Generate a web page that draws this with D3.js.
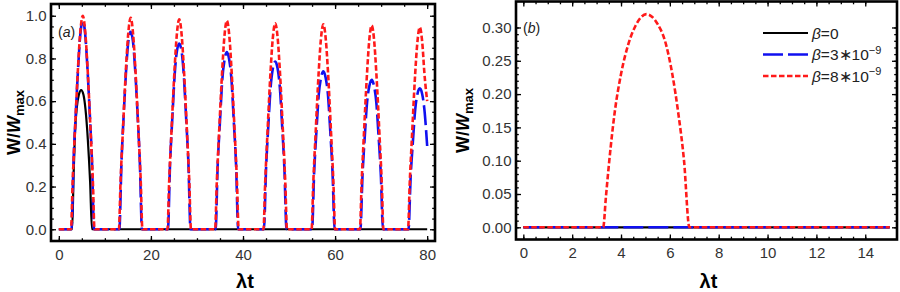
<!DOCTYPE html>
<html>
<head>
<meta charset="utf-8">
<script src="https://cdn.jsdelivr.net/npm/d3@7/dist/d3.min.js"></script>
<style>
  body { margin: 0; background: #fff; }
  svg text { font-family: 'Liberation Sans', Arial, sans-serif; }
</style>
</head>
<body>
<svg id="chart" width="900" height="292"></svg>
<script>
// panel (a): W/Wmax vs lambda*t
const blackA = [[0,0],[2.9,0],[3.2,0.25],[3.5,0.45],[3.9,0.57],[4.35,0.63],[4.85,0.652],[5.35,0.63],[5.8,0.56],[6.3,0.42],[6.8,0.22],[7.2,0],[80,0]];

const blueA = [[0,0],
  [2.75,0],[3.2,0.32],[3.7,0.55],[4.2,0.76],[4.7,0.92],[5.2,0.975],[5.7,0.92],[6.2,0.76],[6.7,0.55],[7.2,0.32],[7.65,0],
  [13.15,0],[13.6,0.31],[14.1,0.54],[14.6,0.74],[15.1,0.88],[15.6,0.925],[16.1,0.88],[16.6,0.74],[17.1,0.54],[17.6,0.31],[18.05,0],
  [23.7,0],[24.15,0.305],[24.65,0.52],[25.15,0.72],[25.65,0.835],[26.15,0.87],[26.65,0.835],[27.15,0.72],[27.65,0.52],[28.15,0.305],[28.6,0],
  [34.05,0],[34.5,0.3],[35.0,0.505],[35.5,0.70],[36.0,0.795],[36.5,0.83],[37.0,0.795],[37.5,0.70],[38.0,0.505],[38.5,0.3],[38.95,0],
  [44.55,0],[45.0,0.28],[45.5,0.485],[46.0,0.665],[46.5,0.755],[47.0,0.785],[47.5,0.755],[48.0,0.665],[48.5,0.485],[49.0,0.28],[49.45,0],
  [55.0,0],[55.45,0.265],[55.95,0.46],[56.45,0.63],[56.95,0.71],[57.45,0.74],[57.95,0.71],[58.45,0.63],[58.95,0.46],[59.45,0.265],[59.9,0],
  [65.5,0],[65.95,0.25],[66.45,0.435],[66.95,0.595],[67.45,0.672],[67.95,0.70],[68.45,0.672],[68.95,0.595],[69.45,0.435],[69.95,0.25],[70.4,0],
  [75.95,0],[76.4,0.24],[76.9,0.41],[77.4,0.56],[77.9,0.635],[78.4,0.66],[78.9,0.635],[79.4,0.56],[80,0.39]];

const redA = [[0,0],
  [2.65,0],[3.0,0.22],[3.5,0.46],[4.2,0.77],[4.65,0.92],[5.2,1.0],[5.75,0.92],[6.2,0.77],[6.9,0.46],[7.4,0.22],[7.75,0],
  [13.05,0],[13.4,0.22],[13.9,0.455],[14.6,0.76],[15.05,0.91],[15.6,0.99],[16.15,0.91],[16.6,0.76],[17.3,0.455],[17.8,0.22],[18.15,0],
  [23.6,0],[23.95,0.215],[24.45,0.45],[25.15,0.755],[25.6,0.905],[26.15,0.983],[26.7,0.905],[27.15,0.755],[27.85,0.45],[28.35,0.215],[28.7,0],
  [33.95,0],[34.3,0.215],[34.8,0.45],[35.5,0.75],[35.95,0.9],[36.5,0.977],[37.05,0.9],[37.5,0.75],[38.2,0.45],[38.7,0.215],[39.05,0],
  [44.45,0],[44.8,0.21],[45.3,0.445],[46.0,0.745],[46.45,0.89],[47.0,0.965],[47.55,0.89],[48.0,0.745],[48.7,0.445],[49.2,0.21],[49.55,0],
  [54.9,0],[55.25,0.21],[55.75,0.44],[56.45,0.74],[56.9,0.885],[57.45,0.96],[58.0,0.885],[58.45,0.74],[59.15,0.44],[59.65,0.21],[60.0,0],
  [65.4,0],[65.75,0.21],[66.25,0.44],[66.95,0.735],[67.4,0.88],[67.95,0.955],[68.5,0.88],[68.95,0.735],[69.65,0.44],[70.15,0.21],[70.5,0],
  [75.85,0],[76.2,0.21],[76.7,0.435],[77.4,0.73],[77.85,0.87],[78.4,0.946],[78.95,0.87],[79.4,0.73],[80,0.6]];

// panel (b)
const blackB = [[0,0],[15,0]];
const blueB = [[0,0],[15,0]];
const redB = [[0,0],[3.27,0],[3.38,0.045],[3.52,0.1],[3.75,0.175],[4.0,0.23],[4.3,0.275],[4.6,0.303],[5.04,0.32],[5.5,0.305],[5.8,0.28],[6.1,0.23],[6.35,0.17],[6.58,0.1],[6.8,0],[15,0]];

const ticksAx = [0, 20, 40, 60, 80];
const ticksAy = [0, 0.2, 0.4, 0.6, 0.8, 1.0];
const ticksBx = [0, 2, 4, 6, 8, 10, 12, 14];
const ticksBy = [0, 0.05, 0.10, 0.15, 0.20, 0.25, 0.30];
const legendLabels = [['0', null], ['3\u221710', '\u22129'], ['8\u221710', '\u22129']];

const styles = [
  { color: '#000', width: 2.2, dash: null },
  { color: '#1010f0', width: 2.6, dash: '20,5' },
  { color: '#ff1a1a', width: 2.6, dash: '5.5,2.5' }
];

const svg = d3.select('#chart');

function drawPanel(p) {
  const x = d3.scaleLinear().domain(p.xDomain).range([p.left, p.right]);
  const y = d3.scaleLinear().domain(p.yDomain).range([p.bottom, p.top]);
  const g = svg.append('g');

  g.append('clipPath').attr('id', 'clip-' + p.id)
    .append('rect')
    .attr('x', p.left).attr('y', p.top)
    .attr('width', p.right - p.left).attr('height', p.bottom - p.top);

  const line = d3.line()
    .x(d => x(d[0]))
    .y(d => y(d[1]))
    .curve(d3.curveMonotoneX);

  const curves = g.append('g').attr('clip-path', `url(#clip-${p.id})`);
  p.series.forEach((s, i) => {
    curves.append('path')
      .attr('d', line(s))
      .attr('fill', 'none')
      .attr('stroke', styles[i].color)
      .attr('stroke-width', styles[i].width)
      .attr('stroke-dasharray', styles[i].dash)
      .attr('stroke-linejoin', 'round');
  });

  // major + minor ticks on all four sides, pointing inward
  const minorX = d3.range(p.xTicks[0], p.xTicks[p.xTicks.length - 1] + 1e-9, p.xMinor);
  const minorY = d3.range(p.yTicks[0], p.yTicks[p.yTicks.length - 1] + 1e-9, p.yMinor);

  const sides = [
    { make: d3.axisBottom, scale: x, pos: p.bottom, dir: 'x', labelled: true },
    { make: d3.axisTop, scale: x, pos: p.top, dir: 'x', labelled: false },
    { make: d3.axisLeft, scale: y, pos: p.left, dir: 'y', labelled: true },
    { make: d3.axisRight, scale: y, pos: p.right, dir: 'y', labelled: false }
  ];
  sides.forEach(s => {
    const shift = s.dir === 'x' ? `translate(0,${s.pos})` : `translate(${s.pos},0)`;
    const fmt = s.labelled ? (s.dir === 'x' ? p.xFormat : p.yFormat) : () => '';

    const ga = g.append('g')
      .attr('transform', shift)
      .call(s.make(s.scale)
        .tickValues(s.dir === 'x' ? p.xTicks : p.yTicks)
        .tickSizeInner(-5).tickSizeOuter(0)
        .tickPadding(s.dir === 'x' ? 8 : 4.5)
        .tickFormat(fmt));
    ga.select('.domain').remove();
    ga.selectAll('line').attr('stroke', '#000').attr('stroke-width', 1.3);
    ga.selectAll('text').attr('font-size', 15).attr('fill', '#333');

    const gm = g.append('g')
      .attr('transform', shift)
      .call(s.make(s.scale)
        .tickValues(s.dir === 'x' ? minorX : minorY)
        .tickSizeInner(-2.8).tickSizeOuter(0)
        .tickFormat(() => ''));
    gm.select('.domain').remove();
    gm.selectAll('line').attr('stroke', '#000').attr('stroke-width', 1.3);
  });

  g.append('rect')
    .attr('x', p.left).attr('y', p.top)
    .attr('width', p.right - p.left).attr('height', p.bottom - p.top)
    .attr('fill', 'none').attr('stroke', '#000').attr('stroke-width', 2.6);

  // axis titles
  const yt = g.append('text')
    .attr('transform', `translate(${p.yTitleX},${(p.top + p.bottom) / 2}) rotate(-90)`)
    .attr('text-anchor', 'middle')
    .attr('font-size', 18).attr('font-weight', 'bold');
  yt.append('tspan').text('W/');
  yt.append('tspan').attr('font-style', 'italic').text('W');
  yt.append('tspan').attr('font-size', 13).attr('dy', 4).text('max');

  g.append('text')
    .attr('x', (p.left + p.right) / 2 + 2).attr('y', 288)
    .attr('text-anchor', 'middle')
    .attr('font-size', 20).attr('font-weight', 'bold')
    .text('\u03bbt');

  const pl = g.append('text')
    .attr('x', p.left + 7).attr('y', p.labelY)
    .attr('font-size', 14).attr('fill', '#222');
  pl.append('tspan').text('(');
  pl.append('tspan').attr('font-style', 'italic').text(p.id);
  pl.append('tspan').text(')');

  return { g, x, y };
}

drawPanel({
  id: 'a', left: 51, right: 435, top: 4, bottom: 241,
  xDomain: [-1.7, 81.7], yDomain: [-0.055, 1.055],
  xTicks: ticksAx, yTicks: ticksAy, xMinor: 5, yMinor: 0.05,
  xFormat: d3.format('d'), yFormat: d3.format('.1f'),
  series: [blackA, blueA, redA], yTitleX: 20, labelY: 37
});

const b = drawPanel({
  id: 'b', left: 516, right: 897, top: 1.5, bottom: 239.5,
  xDomain: [-0.3, 15.3], yDomain: [-0.0183, 0.339],
  xTicks: ticksBx, yTicks: ticksBy, xMinor: 0.5, yMinor: 0.01,
  xFormat: d3.format('d'), yFormat: d3.format('.2f'),
  series: [blackB, blueB, redB], yTitleX: 469, labelY: 33
});

// legend
const legend = b.g.append('g');
legendLabels.forEach((lab, i) => {
  const ly = 33 + i * 21.5;
  legend.append('line')
    .attr('x1', 763).attr('x2', 808).attr('y1', ly).attr('y2', ly)
    .attr('stroke', styles[i].color)
    .attr('stroke-width', styles[i].width)
    .attr('stroke-dasharray', styles[i].dash);
  const t = legend.append('text')
    .attr('x', 812).attr('y', ly + 5.5)
    .attr('font-size', 15.5).attr('fill', '#222');
  t.append('tspan').attr('font-style', 'italic').text('\u03b2');
  t.append('tspan').text('=' + lab[0]);
  if (lab[1]) t.append('tspan').attr('font-size', 11).attr('dy', -6.5).text(lab[1]);
});
</script>
</body>
</html>
